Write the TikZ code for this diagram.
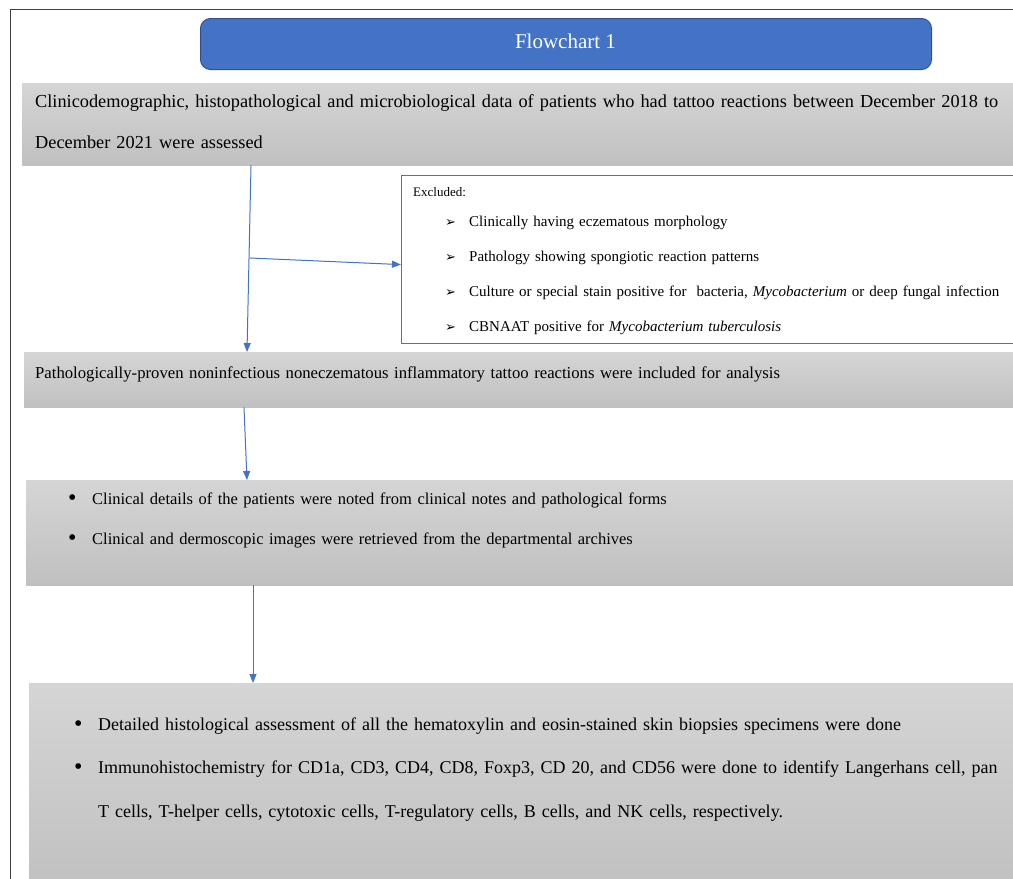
\documentclass[tikz,border=0pt]{standalone}
\usepackage{fontspec}
\setmainfont{Liberation Serif}
\newfontfamily\symfont{DejaVu Sans}
\usetikzlibrary{arrows.meta}
\definecolor{wordblue}{HTML}{4472C4}
\definecolor{wordblueline}{HTML}{2F528F}
\definecolor{greytop}{HTML}{D5D5D5}
\definecolor{greybot}{HTML}{C0C0C0}
\newcommand{\bul}{\makebox[24pt][l]{\fontsize{24}{24}\selectfont\raisebox{-1pt}{\textbullet}}}
\newcommand{\chevr}{\makebox[24pt][l]{\symfont\fontsize{13}{13}\selectfont ➢}}
\begin{document}
\begin{tikzpicture}[x=1pt, y=-1pt, line join=round, >={Triangle[length=9pt,width=7pt]}]
\tikzset{
  greybox/.style={anchor=north west, inner sep=0pt, top color=greytop, bottom color=greybot, draw=none},
  txt/.style={anchor=base west, inner sep=0pt, align=left, text width=990pt, font=\fontsize{18}{41}\selectfont},
  flow/.style={->, wordblue, line width=1pt},
}
\useasboundingbox (0,0) rectangle (1013,879);
\draw[line width=0.8pt, black!75] (10,879) -- (10,9) -- (1013,9);
% title
\node[anchor=north west, minimum width=731pt, minimum height=51pt, inner sep=0pt, rounded corners=10pt, fill=wordblue, draw=wordblueline, line width=1pt] (title) at (200,18) {};
\node[anchor=base, inner sep=0pt, text=white, font=\fontsize{21}{25}\selectfont] (title-txt) at (565.5,48) {Flowchart 1};
% boxes
\node[greybox, minimum width=1000pt, minimum height=82pt] (assess) at (22,83) {};
\node[txt, font=\fontsize{18.3}{41}\selectfont] (assess-txt) at (35,107) {Clinicodemographic, histopathological and microbiological data of patients who had tattoo reactions between December 2018 to\\December 2021 were assessed};
\node[anchor=north west, minimum width=619pt, minimum height=168pt, inner sep=0pt, draw=wordblue, line width=1.2pt, fill=white] (excl) at (401,175) {};
\node[txt, font=\fontsize{13}{15}\selectfont] (excl-head) at (413,196) {Excluded:};
\node[txt, text width=600pt, font=\fontsize{15}{35}\selectfont] (excl-txt) at (445,226) {\chevr Clinically having eczematous morphology\\
  \chevr Pathology showing spongiotic reaction patterns\\
  \chevr Culture or special stain positive for~ bacteria, \textit{Mycobacterium} or deep fungal infection\\
  \chevr CBNAAT positive for \textit{Mycobacterium tuberculosis}};
\node[greybox, minimum width=1000pt, minimum height=55pt] (incl) at (24,352) {};
\node[txt, font=\fontsize{16.7}{41}\selectfont] (incl-txt) at (35,378) {Pathologically-proven noninfectious noneczematous inflammatory tattoo reactions were included for analysis};
\node[greybox, minimum width=1000pt, minimum height=105pt] (clin) at (26,480) {};
\node[txt, font=\fontsize{16.5}{40}\selectfont] (clin-txt) at (68,504) {\bul Clinical details of the patients were noted from clinical notes and pathological forms\\
  \bul Clinical and dermoscopic images were retrieved from the departmental archives};
\node[greybox, minimum width=1000pt, minimum height=210pt] (ihc) at (29,683) {};
\node[txt, font=\fontsize{18}{43.5}\selectfont] (ihc-txt) at (74,730) {\bul Detailed histological assessment of all the hematoxylin and eosin-stained skin biopsies specimens were done\\
  \bul Immunohistochemistry for CD1a, CD3, CD4, CD8, Foxp3, CD 20, and CD56 were done to identify Langerhans cell, pan\\
  \hspace*{24pt}T cells, T-helper cells, cytotoxic cells, T-regulatory cells, B cells, and NK cells, respectively.};
% connectors
\coordinate (fork) at (250,258);
\draw[flow] ([xshift=229pt]assess.south west) -- ([xshift=223pt]incl.north west);
\draw[flow] (fork) -- ([yshift=-5pt]excl.west);
\draw[flow] ([xshift=220pt]incl.south west) -- ([xshift=221pt]clin.north west);
\draw[flow] ([xshift=227pt]clin.south west) -- ([xshift=224pt]ihc.north west);
\end{tikzpicture}
\end{document}
